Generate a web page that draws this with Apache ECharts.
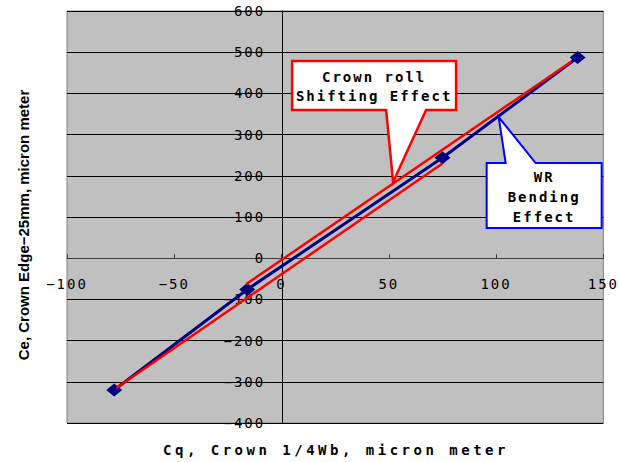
<!DOCTYPE html>
<html><head><meta charset="utf-8">
<script src="https://cdn.jsdelivr.net/npm/echarts@6/dist/echarts.min.js"></script>
<style>html,body{margin:0;padding:0;background:#fff}#chart{width:619px;height:462px}</style>
</head><body><div id="chart"></div>
<script>
// ---- data ----
const xRange = [-100, 150];
const xStep = 50;
const yRange = [-400, 600];
const yStep = 100;
const wrSeries = [[-78, -320], [-16, -76], [75, 244], [138, 487]];
const shiftUpper = [[-16.5, -63], [135, 477]];
const shiftLower = [[-77, -315], [75, 230]];
const xTitle = 'Cq, Crown 1/4Wb, micron meter';
const yTitle = 'Ce, Crown Edge\u221225mm, micron meter';
const callout1Lines = ['Crown roll', 'Shifting Effect'];
const callout1Tip = [52, 185];
const callout2Lines = ['WR', 'Bending', 'Effect'];
const callout2Tip = [101.2, 342.7];

const W = 619, H = 462;
const G = {left: 67, right: 14, top: 11, bottom: 39};
const gw = W - G.left - G.right, gh = H - G.top - G.bottom;
// place axes where the other axis is zero
const xAxisOffset = -gh * (0 - yRange[0]) / (yRange[1] - yRange[0]);
const yAxisOffset = -gw * (0 - xRange[0]) / (xRange[1] - xRange[0]);

const chart = echarts.init(document.getElementById('chart'), null, {renderer: 'svg'});
const MONO = 'DejaVu Sans Mono';
const fmt = v => String(v).replace('-', '\u2212');

chart.setOption({
  animation: false,
  grid: Object.assign({show: true, backgroundColor: '#c0c0c0', borderColor: '#808080', borderWidth: 1}, G),
  xAxis: {
    type: 'value', min: xRange[0], max: xRange[1], interval: xStep,
    position: 'bottom', offset: xAxisOffset,
    axisLine: {show: true, onZero: false, lineStyle: {color: '#404040', width: 1}},
    axisTick: {show: true, inside: true, length: 4, lineStyle: {color: '#404040'}},
    axisLabel: {margin: 19, color: '#000', fontFamily: MONO, fontSize: 14, formatter: fmt,
                showMinLabel: true, showMaxLabel: true},
    splitLine: {show: false}
  },
  yAxis: {
    type: 'value', min: yRange[0], max: yRange[1], interval: yStep,
    position: 'left', offset: yAxisOffset,
    axisLine: {show: true, onZero: false, lineStyle: {color: '#000', width: 1}},
    axisTick: {show: true, inside: true, length: 7, lineStyle: {color: '#000'}},
    axisLabel: {margin: 17, color: '#000', fontFamily: MONO, fontSize: 14, formatter: fmt,
                showMinLabel: true, showMaxLabel: true},
    splitLine: {show: true, lineStyle: {color: '#000', width: 1}}
  },
  series: [
    {type: 'line', data: wrSeries, symbol: 'diamond', symbolSize: [16, 13],
     itemStyle: {color: '#000080'}, lineStyle: {color: '#000080', width: 3}, z: 2},
    {type: 'line', data: shiftUpper, symbol: 'none',
     lineStyle: {color: '#ff0000', width: 2.5}, z: 3},
    {type: 'line', data: shiftLower, symbol: 'none',
     lineStyle: {color: '#ff0000', width: 2.5}, z: 3}
  ]
});

const t1 = chart.convertToPixel({gridIndex: 0}, callout1Tip);
const t2 = chart.convertToPixel({gridIndex: 0}, callout2Tip);
const txtStyle = (text, x, y) => ({type: 'text', z: 101, style: {
  text, x, y, align: 'center', verticalAlign: 'middle',
  fontFamily: MONO, fontWeight: 'bold', fontSize: 14, fill: '#000'}});

const g = [];
// callout 1 (red)
g.push({type: 'polygon', z: 100, shape: {points: [
  [t1[0]-101, t1[1]-121], [t1[0]+63, t1[1]-121], [t1[0]+63, t1[1]-72],
  [t1[0]+33, t1[1]-72], [t1[0], t1[1]], [t1[0]-7, t1[1]-72], [t1[0]-101, t1[1]-72]]},
  style: {fill: '#fff', stroke: '#ff0000', lineWidth: 2.5, lineJoin: 'miter'}});
callout1Lines.forEach((s, i) => g.push(txtStyle(s, t1[0]-19, t1[1]-105 + i*19)));
// callout 2 (blue)
g.push({type: 'polygon', z: 100, shape: {points: [
  [t2[0]-12, t2[1]+46], [t2[0]+7, t2[1]+46], [t2[0], t2[1]], [t2[0]+37, t2[1]+46],
  [t2[0]+103, t2[1]+46], [t2[0]+103, t2[1]+111], [t2[0]-12, t2[1]+111]]},
  style: {fill: '#fff', stroke: '#0000ff', lineWidth: 2, lineJoin: 'miter'}});
callout2Lines.forEach((s, i) => g.push(txtStyle(s, t2[0]+45.5, t2[1]+60 + i*20)));
// axis titles
g.push({type: 'text', z: 101, style: {text: xTitle, x: 336, y: 450, align: 'center', verticalAlign: 'middle',
  fontFamily: MONO, fontWeight: 'bold', fontSize: 14, fill: '#000'}});
g.push({type: 'text', z: 101, x: 23, y: 225, rotation: Math.PI/2, style: {text: yTitle, x: 0, y: 0,
  align: 'center', verticalAlign: 'middle', fontFamily: 'Liberation Sans', fontWeight: 'bold', fontSize: 15, fill: '#000'}});
chart.setOption({graphic: g});

function spacing() {
  document.querySelectorAll('#chart svg text').forEach(t => {
    const s = t.textContent;
    let ls = null;
    if (s === xTitle) ls = '3.5px';
    else if (callout1Lines.includes(s) || callout2Lines.includes(s)) ls = '2px';
    else if (/^[\u2212\d]+$/.test(s)) ls = '2px';
    if (ls) t.style.letterSpacing = ls;
  });
}
chart.on('finished', spacing);
setTimeout(spacing, 50);
</script></body></html>
